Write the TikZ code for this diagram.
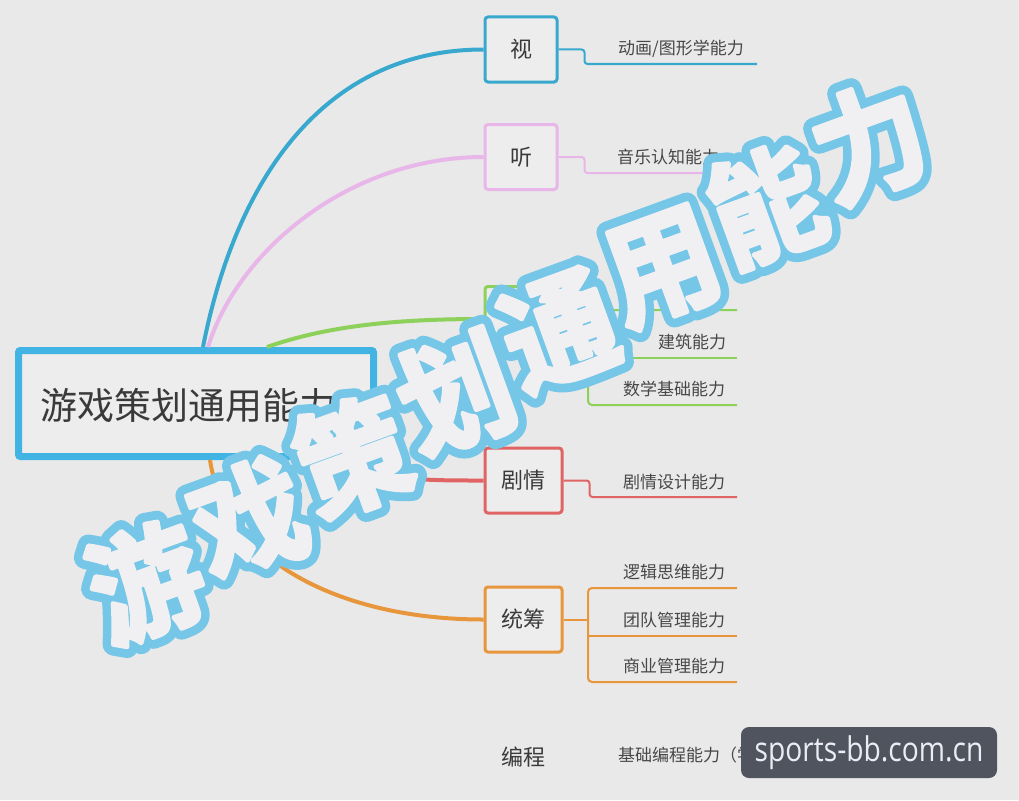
\documentclass[tikz,border=0pt]{standalone}
\usepackage{fontspec}
\setmainfont{Noto Sans CJK SC}
\newfontfamily\cjk{Noto Sans CJK SC}
\newfontfamily\cjkheavy[FakeBold=4]{Noto Sans CJK SC Bold}
\newfontfamily\cjkoutline[FakeBold=19]{Noto Sans CJK SC Bold}
\newfontfamily\wmfont[FakeStretch=0.83]{Open Sans}
\usetikzlibrary{calc}
\definecolor{bg}{HTML}{E9E9E9}
\definecolor{boxfill}{HTML}{EDEDED}
\definecolor{txt}{HTML}{3A3A3A}
\definecolor{subtxt}{HTML}{474747}
\definecolor{rootblue}{HTML}{41B4E4}
\definecolor{cblue}{HTML}{38A8CF}
\definecolor{cpink}{HTML}{E8B6E8}
\definecolor{cgreen}{HTML}{8DD05A}
\definecolor{cred}{HTML}{E06464}
\definecolor{corange}{HTML}{E8963C}
\definecolor{ovblue}{HTML}{76C6E8}
\definecolor{ovfill}{HTML}{F0F0F2}
\definecolor{wmbg}{HTML}{50545E}
\definecolor{wmtxt}{HTML}{ECECF4}
\tikzset{
  branchbox/.style={draw, line width=3pt, rounded corners=3pt, fill=boxfill,
    minimum width=72pt, minimum height=65pt, inner sep=0pt,
    font=\cjk\fontsize{22}{26}\selectfont, text=txt},
  curveline/.style={line width=4pt},
  subline/.style={line width=2pt, rounded corners=3pt},
  subtext/.style={font=\cjk\fontsize{17}{20}\selectfont, text=subtxt, inner sep=0pt},
  ovchar/.style={rotate=20, xscale=0.95, inner sep=0pt}
}
\begin{document}
\begin{tikzpicture}[x=1pt,y=-1pt]
\useasboundingbox (0,0) rectangle (1019,800);
\fill[bg] (0,0) rectangle (1019,800);

% root
\node[draw=rootblue, line width=7pt, rounded corners=2pt, fill=boxfill,
  minimum width=355pt, minimum height=106pt, inner sep=0pt] (root) at (196,403.5) {};
\node[anchor=west, inner sep=0pt, font=\cjk\fontsize{37}{40}\selectfont, text=txt]
  (roottext) at (40,405) {游戏策划通用能力};

% branch boxes
\node[branchbox, draw=cblue] (v) at (521,49.5) {视};
\node[branchbox, draw=cpink] (t) at (521,157) {听};
\node[branchbox, draw=cgreen] (g) at (521,319) {};
\node[branchbox, draw=cred, minimum width=77pt] (j) at (523.5,480.5) {剧情};
\node[branchbox, draw=corange, minimum width=77pt] (c) at (523.5,619.5) {统筹};
\node[inner sep=0pt, font=\cjk\fontsize{22}{26}\selectfont, text=txt] (b) at (523,757) {编程};

% main curves
\coordinate (rv) at ($(root.north west)+(188,0)$);
\coordinate (rt) at ($(root.north west)+(193,0)$);
\coordinate (rg) at ($(root.north west)+(252,0)$);
\coordinate (rj) at ($(root.south west)+(330,0)$);
\coordinate (rc) at ($(root.south west)+(195,0)$);
\draw[curveline, cgreen] (rg) .. controls (330,325) and (400,319) .. (g.west);
\draw[curveline, cpink] (rt) .. controls (238,250) and (350,157) .. (t.west);
\draw[curveline, cblue] (rv) .. controls (238,170) and (330,49.5) .. (v.west);
\draw[curveline, cred] (rj) .. controls (380,481) and (430,480.5) .. (j.west);
\draw[curveline, corange] (rc) .. controls (225,560) and (340,619.5) .. (c.west);

% sub branches
\coordinate (v1) at (757,64);
\draw[subline, cblue] (v.east) -- ++(26,0) |- (v1);
\node[subtext] (v1t) at (681,49) {动画/图形学能力};

\coordinate (t1) at (737,173);
\draw[subline, cpink] (t.east) -- ++(26,0) |- (t1);
\node[subtext] (t1t) at (668,157) {音乐认知能力};

\coordinate (g1) at (737,310);
\coordinate (g2) at (737,358);
\coordinate (g3) at (737,405);
\coordinate (gk) at (588,319);
\draw[subline, cgreen] (g.east) -- (gk);
\draw[subline, cgreen, rounded corners=4pt] (g1) -- (588,310) -- (588,405) -- (g3);
\draw[subline, cgreen] (588,358) -- (g2);
\node[subtext] (g2t) at (692,342) {建筑能力};
\node[subtext] (g3t) at (674,389) {数学基础能力};

\coordinate (j1) at (737,497);
\draw[subline, cred] (j.east) -- ++(26,0) |- (j1);
\node[subtext] (j1t) at (674,482) {剧情设计能力};

\coordinate (c1) at (737,588);
\coordinate (c2) at (737,636);
\coordinate (c3) at (737,682);
\coordinate (ck) at (588,619.5);
\draw[subline, corange] (c.east) -- (ck);
\draw[subline, corange, rounded corners=4pt] (c1) -- (588,588) -- (588,682) -- (c3);
\draw[subline, corange] (588,636) -- (c2);
\node[subtext] (c1t) at (674,572) {逻辑思维能力};
\node[subtext] (c2t) at (674,620) {团队管理能力};
\node[subtext] (c3t) at (674,666) {商业管理能力};

\node[subtext, anchor=west] (b1t) at (618,755) {基础编程能力（学};

% overlay big title: each character tilted, set along a steeper line
\coordinate (ov) at (507.5,362);
\foreach \ch [count=\i from 0] in {游,戏,策,划,通,用,能,力}{
  \node[ovchar, text=ovblue, font=\cjkoutline\fontsize{118}{118}\selectfont] (ovo\i)
    at ($(ov)+({(\i-3.5)*121*cos(31.3)},{-(\i-3.5)*121*sin(31.3)})$)
    {\special{pdf:literal direct 1 j 1 J}\ch};
}
\foreach \ch [count=\i from 0] in {游,戏,策,划,通,用,能,力}{
  \node[ovchar, text=ovfill, font=\cjkheavy\fontsize{118}{118}\selectfont] (ovt\i)
    at ($(ov)+({(\i-3.5)*121*cos(31.3)},{-(\i-3.5)*121*sin(31.3)})$)
    {\special{pdf:literal direct 1 j 1 J}\ch};
}

% watermark
\node[fill=wmbg, rounded corners=8pt, minimum width=256pt, minimum height=51pt, inner sep=0pt,
  text=wmtxt, font=\wmfont\fontsize{34}{36}\selectfont] (wm) at (869,752.5) {sports-bb.com.cn};
\end{tikzpicture}
\end{document}
